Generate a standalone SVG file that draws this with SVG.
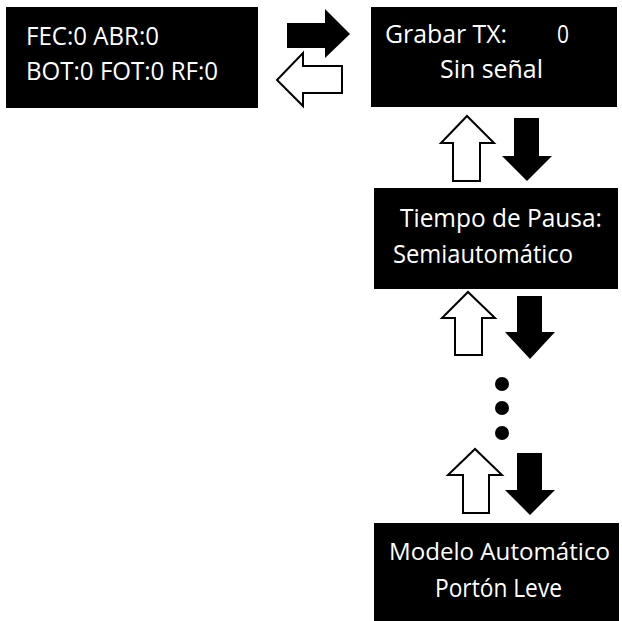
<svg xmlns="http://www.w3.org/2000/svg" width="622" height="621" viewBox="0 0 622 621">
<style>
.box{fill:#000}
.t{fill:#fff;font-family:"Open Sans","Noto Sans","DejaVu Sans",sans-serif;font-size:25px}
.fa{fill:#000}
.oa{fill:#fff;stroke:#000;stroke-width:2;stroke-linejoin:miter}
</style>
<g id="node-status">
<rect class="box" x="6" y="7" width="252" height="101"/>
<text class="t" x="26" y="45" textLength="133" lengthAdjust="spacingAndGlyphs">FEC:0 ABR:0</text>
<text class="t" x="26" y="80" textLength="192" lengthAdjust="spacingAndGlyphs">BOT:0 FOT:0 RF:0</text>
</g>
<g id="node-grabar">
<rect class="box" x="371" y="7" width="246" height="100"/>
<text class="t" x="385" y="43" textLength="122" lengthAdjust="spacingAndGlyphs">Grabar TX:</text>
<text class="t" x="557" y="43" textLength="12" lengthAdjust="spacingAndGlyphs">0</text>
<text class="t" x="440" y="78" textLength="103" lengthAdjust="spacingAndGlyphs">Sin señal</text>
</g>
<g id="node-pausa">
<rect class="box" x="374" y="188" width="244" height="101"/>
<text class="t" x="400" y="227" textLength="202" lengthAdjust="spacingAndGlyphs">Tiempo de Pausa:</text>
<text class="t" x="393" y="263" textLength="180" lengthAdjust="spacingAndGlyphs">Semiautomático</text>
</g>
<g id="node-modelo">
<rect class="box" x="374" y="523" width="245" height="98"/>
<text class="t" x="389" y="560" textLength="221" lengthAdjust="spacingAndGlyphs" style="font-size:23.5px">Modelo Automático</text>
<text class="t" x="435" y="597" textLength="127" lengthAdjust="spacingAndGlyphs">Portón Leve</text>
</g>
<g id="connectors">
<polygon class="fa" points="287,23 325,23 325,9 350,34 325,58 325,48 287,48"/>
<polygon class="oa" points="342,66 303,66 303,53 277,80 303,106 303,93 342,93"/>
<polygon class="oa" points="453,181 453,143 441,143 467,116 494,143 480,143 480,181"/>
<polygon class="fa" points="514,118 539,118 539,156 552,156 527,181 502,156 514,156"/>
<polygon class="oa" points="455,355 455,318 442,318 468,292 495,318 482,318 482,355"/>
<polygon class="fa" points="517,296 542,296 542,332 555,332 530,359 505,332 517,332"/>
<circle class="fa" cx="502" cy="384" r="7"/>
<circle class="fa" cx="502" cy="408" r="7"/>
<circle class="fa" cx="502" cy="433" r="7"/>
<polygon class="oa" points="463,513 463,475 448,475 475,449 502,475 489,475 489,513"/>
<polygon class="fa" points="517,453 542,453 542,490 555,490 530,515 505,490 517,490"/>
</g>
</svg>
